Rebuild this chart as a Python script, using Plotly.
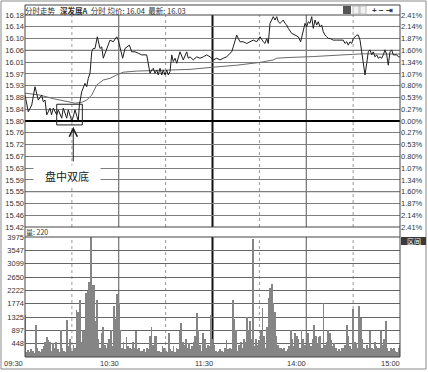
import plotly.graph_objects as go

# ---------------- data ----------------
price_labels = ["16.18", "16.14", "16.10", "16.06", "16.01", "15.97", "15.93", "15.88", "15.84",
                "15.80", "15.76", "15.72", "15.67", "15.63", "15.59", "15.55", "15.50", "15.46", "15.42"]
pct_labels = ["2.41%", "2.14%", "1.87%", "1.60%", "1.34%", "1.07%", "0.80%", "0.53%", "0.27%",
              "0.00%", "0.27%", "0.53%", "0.80%", "1.07%", "1.34%", "1.60%", "1.87%", "2.14%", "2.41%"]
vol_labels = ["448", "897", "1325", "1774", "2222", "2650", "3099", "3547", "3975"]
time_labels = ["09:30", "10:30", "11:30", "14:00", "15:00"]
time_pos = [0, 60, 120, 180, 240]

base_price = 15.80
top_price = 16.18
vol_max = 3975

price_min = [0, 2.1, 4.3, 6.4, 8.5, 10.7, 11.7, 12.8, 13.9, 16.0, 17.0, 18.1, 20.3, 21.3, 23.5, 24.5,
             26.7, 27.7, 29.9, 30.9, 32.0, 34.1, 34.8, 36.3, 38.4, 39.5, 40.5, 41.6, 42.7, 43.7, 44.8,
             46.3, 48.0, 49.1, 50.1, 51.2, 52.3, 54.4, 56.5, 58.7, 59.7, 60.8, 62.5, 64.0, 65.5, 66.8,
             68.3, 70.4, 72.5, 74.7, 77.9, 80.0, 81.1, 82.1, 83.2, 84.3, 85.3, 86.4, 87.5, 88.5, 89.6,
             90.7, 91.7, 92.8, 93.9, 94.9, 96.0, 97.1, 99.2, 100.3, 101.3, 103.5, 104.5, 105.6, 107.7,
             109.9, 112.0, 114.1, 116.3, 118.4, 120.5, 122.7, 124.8, 126.9, 129.1, 131.2, 132.3, 133.3,
             134.4, 135.5, 136.5, 137.6, 139.7, 141.9, 144.0, 146.1, 148.3, 150.4, 152.5, 153.6, 154.7,
             155.7, 156.8, 158.9, 160.0, 161.1, 162.1, 163.2, 164.3, 165.3, 166.4, 167.5, 168.5, 170.7,
             172.8, 174.9, 176.4, 178.1, 179.2, 180.3, 181.3, 182.4, 183.5, 184.5, 185.6, 186.7, 187.7,
             188.8, 189.9, 190.9, 192.0, 193.1, 194.1, 195.2, 197.3, 199.5, 201.6, 203.7, 204.8, 205.9,
             206.9, 208.0, 209.1, 210.1, 211.2, 212.3, 213.3, 214.4, 215.5, 216.5, 217.6, 218.7, 219.7,
             220.8, 221.9, 222.9, 224.0, 225.1, 226.1, 227.2, 228.3, 229.3, 230.4, 231.5, 232.5, 233.6,
             234.7, 235.7, 237.9, 239.0, 240.0]
price_val = [15.893, 15.833, 15.857, 15.923, 15.875, 15.893, 15.869, 15.875, 15.822, 15.846, 15.822,
             15.846, 15.822, 15.840, 15.810, 15.846, 15.810, 15.840, 15.800, 15.815, 15.840, 15.800,
             15.857, 15.905, 15.935, 15.923, 15.953, 15.971, 16.048, 16.060, 16.060, 16.102, 16.060,
             16.066, 16.025, 16.043, 16.060, 16.090, 16.084, 16.102, 16.090, 16.060, 16.025, 16.060,
             16.066, 16.072, 16.048, 16.048, 16.043, 16.037, 16.037, 15.971, 15.983, 15.989, 15.971,
             15.983, 15.965, 15.989, 15.965, 15.983, 15.965, 15.983, 15.965, 15.977, 16.037, 16.013,
             16.025, 16.007, 16.048, 16.030, 16.019, 16.048, 16.025, 16.030, 16.019, 16.030, 16.025,
             16.030, 16.037, 16.030, 16.019, 16.025, 16.019, 16.025, 16.030, 16.043, 16.048, 16.066,
             16.084, 16.108, 16.096, 16.084, 16.084, 16.078, 16.084, 16.090, 16.084, 16.102, 16.084,
             16.078, 16.096, 16.078, 16.150, 16.174, 16.162, 16.174, 16.156, 16.150, 16.156, 16.162,
             16.150, 16.144, 16.132, 16.114, 16.108, 16.102, 16.084, 16.132, 16.150, 16.138, 16.156,
             16.150, 16.174, 16.132, 16.162, 16.144, 16.156, 16.138, 16.144, 16.120, 16.108, 16.102,
             16.096, 16.096, 16.090, 16.090, 16.090, 16.090, 16.078, 16.084, 16.072, 16.084, 16.078,
             16.096, 16.102, 16.108, 16.108, 16.090, 16.048, 16.000, 15.965, 16.007, 16.048, 16.055,
             16.037, 16.048, 16.030, 16.037, 16.025, 16.030, 16.025, 16.037, 16.055, 16.037, 16.000,
             16.048, 16.055, 16.037, 16.037, 16.030, 16.030]

avg_min = [0, 9.6, 18.1, 26.7, 32.0, 36.3, 39.5, 42.7, 45.9, 50.1, 54.4, 58.7, 62.9, 71.5, 83.2, 92.8,
           105.6, 120.5, 135.5, 150.4, 158.9, 161.0, 166.4, 184.5, 205.9, 216.5, 227.2, 240.0]
avg_val = [15.900, 15.893, 15.880, 15.869, 15.864, 15.867, 15.875, 15.893, 15.929, 15.947, 15.953,
           15.965, 15.975, 15.979, 15.981, 15.982, 15.985, 15.993, 16.000, 16.010, 16.019, 16.025,
           16.027, 16.031, 16.038, 16.041, 16.040, 16.040]

volume = [
    1390, 180, 220, 150, 250, 200, 120, 1060, 300, 200,
    150, 250, 350, 500, 650, 550, 500, 200, 450, 300,
    500, 250, 150, 880, 300, 200, 180, 1230, 350, 600,
    200, 400, 300, 1550, 1500, 1890, 500, 900, 850, 2120,
    2200, 2500, 3975, 2380, 2400, 1200, 1900, 600, 300, 800,
    1000, 400, 300, 450, 600, 900, 350, 1700, 1250, 2100,
    1800, 900, 300, 500, 250, 650, 350, 300, 250, 500,
    300, 850, 250, 300, 200, 200, 250, 150, 300, 250,
    700, 1000, 400, 700, 700, 200, 200, 150, 350, 300,
    200, 150, 800, 250, 200, 350, 150, 300, 250, 860,
    1120, 500, 400, 600, 300, 450, 250, 350, 500, 700,
    1460, 900, 400, 200, 800, 600, 300, 400, 350, 1400,
    600, 400, 200, 150, 200, 250, 200, 150, 300, 560,
    250, 300, 250, 1890, 1260, 900, 200, 400, 500, 300,
    600, 500, 1340, 900, 1200, 600, 3900, 350, 600, 400,
    550, 850, 1620, 700, 300, 1000, 1950, 2290, 2420, 1800,
    1500, 700, 400, 300, 300, 250, 300, 200, 250, 350,
    900, 600, 350, 800, 700, 600, 300, 900, 600, 400,
    250, 800, 450, 350, 600, 1050, 700, 450, 650, 700,
    300, 1800, 400, 500, 900, 800, 550, 350, 450, 300,
    200, 250, 200, 300, 300, 400, 1050, 700, 350, 250,
    1600, 500, 450, 300, 1700, 1300, 600, 300, 250, 400,
    300, 850, 300, 250, 500, 350, 300, 300, 850, 400,
    600, 1200, 300, 200, 300, 250, 300, 200, 150, 300, 400]

# ---------------- geometry helpers ----------------
W, H = 428, 372
L, R, T, B = 25, 28, 15, 15
PW, PH = W - L - R, H - T - B


def py(Y):
    return (H - B - Y) / PH


def px(X):
    return (X - L) / PW


step = (top_price - base_price) / 9
price_ticks = [base_price + (9 - i) * step for i in range(19)]
vol_ticks = [vol_max * (i + 1) / 9 for i in range(9)]
FONT = "Liberation Sans, Arial, sans-serif"
TF = dict(size=7.5, color="#333333", family=FONT)

fig = go.Figure()
fig.add_trace(go.Bar(x=list(range(len(volume))), y=volume, xaxis="x2", yaxis="y2",
                     marker=dict(color="#858585", line=dict(width=0)), width=0.5, hoverinfo="skip"))
fig.add_trace(go.Scatter(x=avg_min, y=avg_val, mode="lines", line=dict(color="#6a6a6a", width=1)))
fig.add_trace(go.Scatter(x=price_min, y=price_val, mode="lines", line=dict(color="#1e1e1e", width=1)))
fig.add_trace(go.Scatter(x=[0], y=[base_price], yaxis="y3", mode="markers", marker=dict(opacity=0),
                         hoverinfo="skip"))

shapes = []
for m, style in [(30, "dot"), (90, "dot"), (150, "dot"), (210, "dot"), (60, "solid"), (180, "solid"), (120, "thick")]:
    for yr in ["y domain", "y2 domain"]:
        if style == "dot":
            ln = dict(color="#9a9a9a", width=1, dash="dot")
        elif style == "solid":
            ln = dict(color="#555555", width=1)
        else:
            ln = dict(color="#111111", width=2)
        shapes.append(dict(type="line", xref="x", yref=yr, x0=m, x1=m, y0=0, y1=1, line=ln, layer="below"))
for k in (6, -6):
    v = base_price + k * step
    shapes.append(dict(type="line", xref="paper", yref="y", x0=0, x1=1, y0=v, y1=v,
                       line=dict(color="#2a2a2a", width=1), layer="below"))
shapes.append(dict(type="line", xref="paper", yref="y", x0=0, x1=1, y0=base_price, y1=base_price,
                   line=dict(color="#000000", width=2)))
shapes.append(dict(type="rect", xref="x", yref="y", x0=20.3, x1=36.7, y0=15.786, y1=15.860,
                   line=dict(color="#222222", width=1)))
shapes.append(dict(type="rect", xref="paper", yref="paper", x0=0, x1=1, y0=0, y1=py(5),
                   line=dict(color="#444444", width=1)))
shapes.append(dict(type="line", xref="paper", yref="paper", x0=0, x1=1, y0=py(15), y1=py(15),
                   line=dict(color="#444444", width=1)))
shapes.append(dict(type="line", xref="paper", yref="paper", x0=0, x1=1, y0=py(227), y1=py(227),
                   line=dict(color="#444444", width=1)))
shapes.append(dict(type="line", xref="paper", yref="paper", x0=0, x1=1, y0=py(237), y1=py(237),
                   line=dict(color="#444444", width=1)))
shapes.append(dict(type="rect", xref="paper", yref="paper", x0=px(1), x1=px(426), y0=py(369), y1=py(1),
                   line=dict(color="#8a8a8a", width=1)))
shapes.append(dict(type="rect", xref="paper", yref="paper", x0=px(343), x1=px(351), y0=py(14), y1=py(6),
                   fillcolor="#555555", line=dict(width=0)))
for a, b in [(353, 359), (360, 366)]:
    shapes.append(dict(type="rect", xref="paper", yref="paper", x0=px(a), x1=px(b), y0=py(14), y1=py(6),
                       fillcolor="#f2f2f2", line=dict(color="#bbbbbb", width=1)))
shapes.append(dict(type="rect", xref="paper", yref="paper", x0=px(401), x1=px(426), y0=py(245), y1=py(237),
                   fillcolor="#3a3a3a", line=dict(width=0)))

annotations = []
annotations.append(dict(xref="paper", yref="paper", x=px(23), y=py(10), xanchor="left", yanchor="middle",
                        text="分时走势&nbsp;&nbsp;&nbsp;<b>深发展A</b>&nbsp;&nbsp;分时&nbsp;均价: 16.04&nbsp;&nbsp;最新: 16.03",
                        showarrow=False, font=dict(size=7.5, color="#333333", family="Noto Sans CJK SC")))
annotations.append(dict(xref="paper", yref="paper", x=px(370), y=py(10), xanchor="left", yanchor="middle",
                        text="<b>+ − ⇥</b>", showarrow=False, font=dict(size=8, color="#333333")))
annotations.append(dict(xref="paper", yref="paper", x=px(24), y=py(232), xanchor="left", yanchor="middle",
                        text="量: 220", showarrow=False,
                        font=dict(size=7, color="#333333", family="Noto Sans CJK SC")))
annotations.append(dict(xref="paper", yref="paper", x=px(413.5), y=py(241), xanchor="center", yanchor="middle",
                        text="区间", showarrow=False,
                        font=dict(size=7, color="#ffffff", family="Noto Sans CJK SC")))
annotations.append(dict(xref="x", yref="y", x=30.9, y=15.779, ax=0, ay=36, showarrow=True,
                        arrowhead=5, arrowsize=1.6, arrowwidth=1, arrowcolor="#222222", text=""))
annotations.append(dict(xref="paper", yref="paper", x=px(66.5), y=py(176), xanchor="center", yanchor="middle",
                        text="盘中双底", showarrow=False, bgcolor="#ffffff", width=64, height=18,
                        font=dict(size=11, color="#222222", family="Noto Sans CJK SC")))
for lab, m in zip(time_labels, time_pos):
    if m == 0:
        annotations.append(dict(xref="paper", yref="paper", x=px(2), y=py(357), xanchor="left", yanchor="top",
                                text=lab, showarrow=False, font=TF))
    else:
        annotations.append(dict(xref="x2", yref="paper", x=m, y=py(357), xanchor="right", yanchor="top",
                                xshift=2, text=lab, showarrow=False, font=TF))

fig.update_layout(
    width=W, height=H, margin=dict(l=L, r=R, t=T, b=B, autoexpand=False), paper_bgcolor="#ffffff",
    plot_bgcolor="#ffffff", showlegend=False, bargap=0, font=dict(family=FONT, size=8, color="#333333"),
    xaxis=dict(domain=[0, 1], range=[0, 240], anchor="y", showgrid=False, showticklabels=False,
               zeroline=False, showline=False, ticks="", automargin=False),
    xaxis2=dict(domain=[0, 1], range=[0, 240], anchor="y2", matches="x", showgrid=False,
                showticklabels=False, zeroline=False, showline=False, ticks="", automargin=False),
    yaxis=dict(domain=[py(227), py(15)], range=[price_ticks[-1], price_ticks[0]], tickvals=price_ticks,
               ticktext=price_labels, showgrid=True, gridcolor="#7e7e7e", gridwidth=1, zeroline=False,
               ticks="", tickfont=TF, anchor="x", automargin=False),
    yaxis3=dict(overlaying="y", side="right", range=[price_ticks[-1], price_ticks[0]], tickvals=price_ticks,
                ticktext=pct_labels, showgrid=False, zeroline=False, ticks="",
                tickfont=TF, anchor="x", automargin=False),
    yaxis2=dict(domain=[0, py(237)], range=[0, vol_max], tickvals=vol_ticks, ticktext=vol_labels,
                showgrid=True, gridcolor="#666666", gridwidth=1, zeroline=False, ticks="",
                tickfont=TF, anchor="x2", automargin=False),
    shapes=shapes, annotations=annotations,
)

fig.write_html("out.html")
